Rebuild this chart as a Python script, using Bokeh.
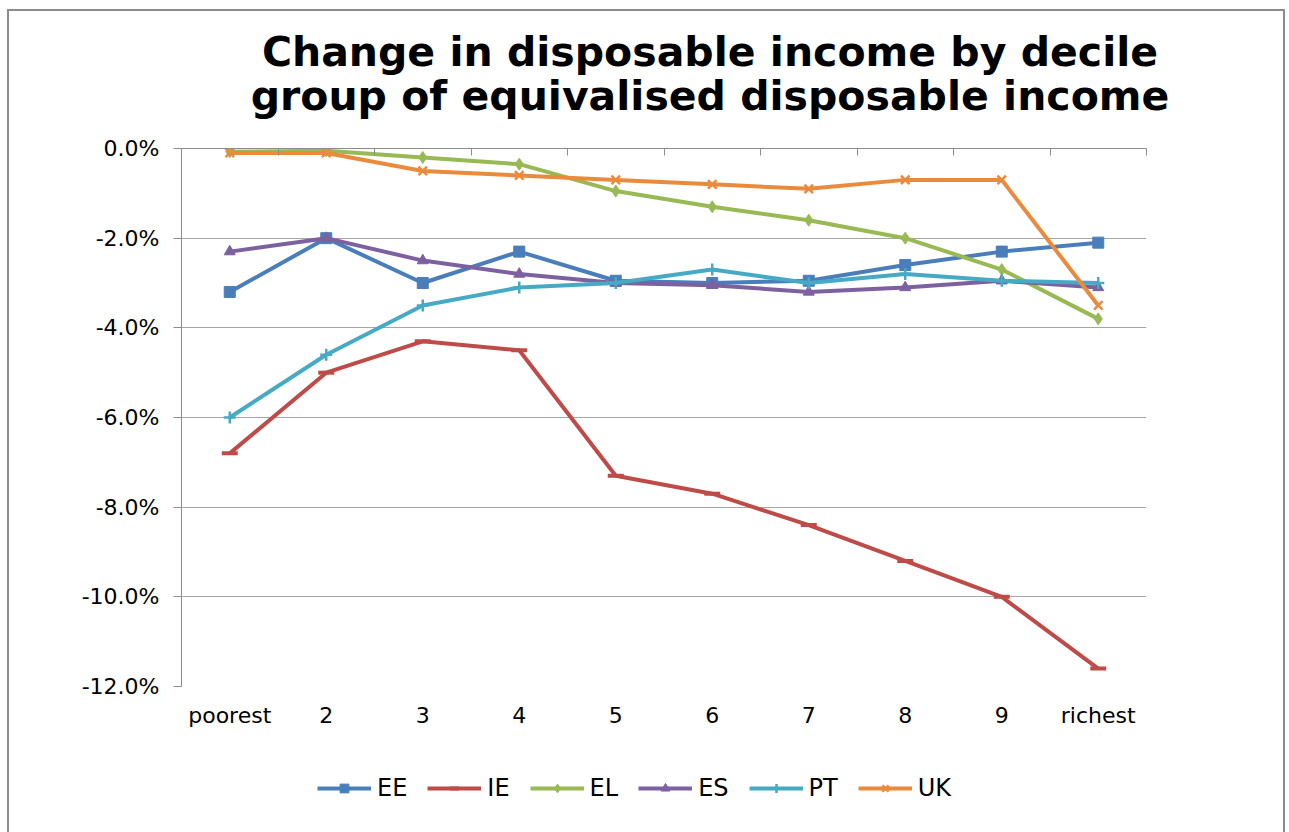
from bokeh.plotting import figure
from bokeh.layouts import column
from bokeh.models import (Range1d, FixedTicker, PrintfTickFormatter, LinearAxis,
                          Legend, LegendItem, Div)
from bokeh.embed import file_html
from bokeh.resources import INLINE

# Decile groups and percentage change in disposable income per country
deciles = ["poorest", "2", "3", "4", "5", "6", "7", "8", "9", "richest"]
ee = [-3.2, -2.0, -3.0, -2.3, -2.95, -3.0, -2.95, -2.6, -2.3, -2.1]
ie = [-6.8, -5.0, -4.3, -4.5, -7.3, -7.7, -8.4, -9.2, -10.0, -11.6]
el = [-0.07, -0.05, -0.2, -0.35, -0.95, -1.3, -1.6, -2.0, -2.7, -3.8]
es = [-2.3, -2.0, -2.5, -2.8, -3.0, -3.05, -3.2, -3.1, -2.95, -3.1]
pt = [-6.0, -4.6, -3.5, -3.1, -3.0, -2.7, -3.0, -2.8, -2.95, -3.0]
uk = [-0.1, -0.1, -0.5, -0.6, -0.7, -0.8, -0.9, -0.7, -0.7, -3.5]
y_ticks = [0, -2, -4, -6, -8, -10, -12]
title_lines = ["Change in disposable income by decile",
               "group of equivalised disposable income"]

series = [
    ("EE", ee, "#4A7EBB", "square", 11),
    ("IE", ie, "#BE4B48", "dash", 16),
    ("EL", el, "#98B954", "diamond", 12),
    ("ES", es, "#7D60A0", "triangle", 11),
    ("PT", pt, "#46AAC5", "cross", 12),
    ("UK", uk, "#EA8A3C", "x", 12),
]

FONT = "DejaVu Sans"
GRID = "#A6A6A6"
AXIS = "#8C8C8C"
FRAME = "#8C8C8C"
LINE_W = 4


def marker_width(marker):
    return 4 if marker == "dash" else (2.5 if marker in ("cross", "x") else 1)


xs = list(range(1, len(deciles) + 1))
x_range = Range1d(0.5, len(deciles) + 0.5)

# chart title block
title = Div(
    text=('<div style="box-sizing:border-box; width:1289px; padding:30px 0 0 131px; '
          f'font-family:\'{FONT}\'; font-weight:bold; font-size:41px; line-height:44px; '
          'text-align:center; color:black; white-space:nowrap;">'
          + "<br>".join(title_lines) + "</div>"),
    width=1289, height=120, margin=0)

p = figure(width=1289, height=640, frame_width=965, frame_height=538,
           output_backend="svg", toolbar_location=None,
           x_range=x_range, y_range=Range1d(-12, 0),
           min_border_left=181, min_border_right=143,
           min_border_top=28, min_border_bottom=74,
           x_axis_location=None, y_axis_location=None)
p.outline_line_color = None
p.background_fill_color = "white"
p.border_fill_color = None

# value axis on the left
yax = LinearAxis(ticker=FixedTicker(ticks=y_ticks),
                 formatter=PrintfTickFormatter(format="%.1f%%"))
yax.axis_line_color = AXIS
yax.major_tick_line_color = AXIS
yax.major_tick_in = 0
yax.major_tick_out = 8
yax.minor_tick_line_color = None
yax.major_label_standoff = 14
yax.major_label_text_font = FONT
yax.major_label_text_font_size = "22px"
yax.major_label_text_color = "black"
p.add_layout(yax, "left")

# category axis line crossing at zero (top), ticks between groups
top = LinearAxis(ticker=FixedTicker(ticks=[i + 0.5 for i in range(len(deciles) + 1)]))
top.axis_line_color = AXIS
top.major_tick_line_color = AXIS
top.major_tick_in = 7
top.major_tick_out = 0
top.minor_tick_line_color = None
top.major_label_text_font_size = "0px"
top.major_label_text_color = None
p.add_layout(top, "above")

# category labels at the low end
bot = LinearAxis(ticker=FixedTicker(ticks=xs),
                 major_label_overrides={i + 1: d for i, d in enumerate(deciles)})
bot.axis_line_color = None
bot.major_tick_line_color = None
bot.minor_tick_line_color = None
bot.major_tick_in = 0
bot.major_tick_out = 0
bot.major_label_standoff = 16
bot.major_label_text_font = FONT
bot.major_label_text_font_size = "22px"
bot.major_label_text_color = "black"
p.add_layout(bot, "below")

p.ygrid.ticker = FixedTicker(ticks=y_ticks)
p.ygrid.grid_line_color = GRID
p.ygrid.grid_line_width = 1
p.xgrid.grid_line_color = None

for name, vals, color, marker, size in series:
    p.line(xs, vals, line_color=color, line_width=LINE_W)
    p.scatter(xs, vals, marker=marker, size=size, fill_color=color,
              line_color=color, line_width=marker_width(marker))

# legend strip under the chart; its own copies of the series sit outside its
# (positive) y window, so only the legend entries show
lf = figure(width=1289, height=72, output_backend="svg", toolbar_location=None,
            x_range=x_range, y_range=Range1d(1, 2),
            min_border=0, x_axis_location=None, y_axis_location=None)
lf.outline_line_color = None
lf.background_fill_color = None
lf.border_fill_color = None
lf.xgrid.grid_line_color = None
lf.ygrid.grid_line_color = None

items = []
for name, vals, color, marker, size in series:
    ln = lf.line(xs, vals, line_color=color, line_width=LINE_W)
    mk = lf.scatter(xs, vals, marker=marker, size=size - 2, fill_color=color,
                    line_color=color, line_width=marker_width(marker))
    items.append(LegendItem(label=name, renderers=[ln, mk]))

legend = Legend(items=items, orientation="horizontal", location=(136, 30))
legend.padding = 0
legend.margin = 0
legend.spacing = 20
legend.glyph_width = 54
legend.glyph_height = 22
legend.label_standoff = 6
legend.label_text_font = FONT
legend.label_text_font_size = "24px"
legend.label_text_color = "black"
legend.border_line_color = None
legend.background_fill_alpha = 0
lf.add_layout(legend, "center")

# chart-area frame (left, top and right edges) painted behind the transparent canvases
page = column(title, p, lf, spacing=0, styles={
    "background-color": "white",
    "background-image": ", ".join([f"linear-gradient({FRAME}, {FRAME})"] * 3),
    "background-size": "2px 100%, 1278px 2px, 2px 100%",
    "background-position": "7px 9px, 7px 9px, 1283px 9px",
    "background-repeat": "no-repeat",
})

open("out.html", "w").write(file_html(page, INLINE))
